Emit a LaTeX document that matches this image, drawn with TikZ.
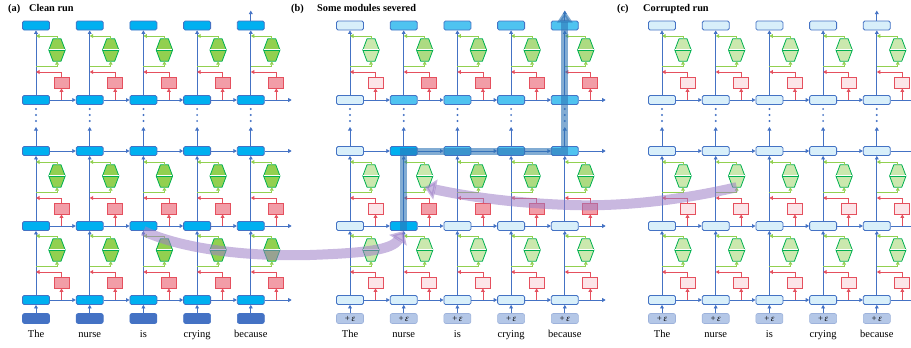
\documentclass[tikz,border=0pt]{standalone}
\usepackage{fontspec}
\setmainfont{Liberation Serif}
\usetikzlibrary{arrows.meta,calc}
\definecolor{bl}{HTML}{4472C4}
\definecolor{hid0}{HTML}{D8EFFA}
\definecolor{hid1}{HTML}{4FC3F0}
\definecolor{hid2}{HTML}{00B0F0}
\definecolor{red0}{HTML}{FCE5E8}
\definecolor{red1}{HTML}{F29DA7}
\definecolor{grn0}{HTML}{CBE8AE}
\definecolor{grn1}{HTML}{ADDB82}
\definecolor{grn2}{HTML}{92D050}
\definecolor{gdk}{HTML}{00B050}
\definecolor{glt}{HTML}{92D050}
\definecolor{rdk}{HTML}{E5505E}
\definecolor{inpA}{HTML}{4472C4}
\definecolor{inpB}{HTML}{B4C7E7}
\definecolor{inpBd}{HTML}{9DB2DB}
\definecolor{purp}{HTML}{9D7EC7}
\definecolor{hlb}{HTML}{2E75B6}
\tikzset{
  atip/.style={-{Triangle[length=3.5pt,width=3.8pt]}},
  hbox/.style={draw=bl, line width=0.8pt, rounded corners=1.5pt, minimum width=27pt, minimum height=9pt, inner sep=0pt},
  rbox/.style={draw=rdk, line width=0.8pt, minimum width=15pt, minimum height=11pt, inner sep=0pt},
  hexn/.style={minimum width=16pt, minimum height=22pt, inner sep=0pt},
  ibox/.style={rounded corners=2pt, line width=0.6pt, minimum width=27pt, minimum height=10pt, inner sep=0pt, font=\fontsize{9}{10}\selectfont},
  bline/.style={draw=bl, line width=0.8pt, atip},
  rline/.style={draw=rdk, line width=0.8pt, atip},
  gline/.style={draw=glt, line width=0.8pt, atip},
  word/.style={font=\fontsize{10.5}{12}\selectfont, inner sep=0pt},
  ptitle/.style={font=\bfseries\fontsize{10.3}{12}\selectfont, anchor=base west, inner sep=0pt},
  purparrow/.style={draw=purp, line width=10pt, opacity=0.55, -{Triangle[length=11pt,width=20pt]}},
  band/.style={draw=hlb, line width=7pt, opacity=0.6, line join=miter, -{Triangle[length=12pt,width=15pt]}},
}
\newcommand{\mkhex}[2]{%
  \filldraw[fill=#2, draw=gdk, line width=0.8pt, line join=round]
    ($(#1.north)+(-4,0)$) -- ($(#1.north)+(4,0)$) -- (#1.east) -- ($(#1.south)+(4,0)$) -- ($(#1.south)+(-4,0)$) -- (#1.west) -- cycle;
  \draw[white, line width=2.4pt] ($(#1.west)+(0.4,0)$) -- ($(#1.east)+(-0.4,0)$);
  \draw[gdk, line width=1pt] (#1.west) -- (#1.east);
}
% #1 prefix #2 col #3 layer #4 x #5 yL #6 red fill #7 green fill #8 lower node #9 upper node
\newcommand{\mklayer}[9]{%
  \node[rbox, fill=#6] (#1r#2-#3) at (#4+25.5,#5-17.5) {};
  \node[hexn] (#1g#2-#3) at (#4+21,#5-50) {};
  \mkhex{#1g#2-#3}{#7}
  \coordinate (#1ra#2-#3) at (#4,#5-28);
  \coordinate (#1gb#2-#3) at (#4,#5-34);
  \coordinate (#1gt#2-#3) at (#4,#5-64);
  \draw[bline] (#8) -- (#9);
  \draw[rline] (#1r#2-#3.south |- #8.center) -- (#1r#2-#3.south);
  \draw[rline] (#1r#2-#3) |- (#1ra#2-#3);
  \draw[gline] (#1gb#2-#3) -| (#1g#2-#3.south);
  \draw[gline] (#1g#2-#3) |- (#1gt#2-#3);
}
% #1 prefix, #2 x0, #3 input fill, #4 input draw, #5 input text, #6 list
\newcommand{\drawpanel}[6]{%
  \foreach \c/\hA/\hB/\hC/\hD/\hE/\rA/\rB/\rC/\gA/\gB/\gC in {#6} {
    \pgfmathsetmacro{\x}{#2+53.7*(\c-1)}
    \node[hbox, fill=hid\hA] (#1h\c-1) at (\x,300) {};
    \node[hbox, fill=hid\hB] (#1h\c-2) at (\x,226) {};
    \node[hbox, fill=hid\hC] (#1h\c-3) at (\x,151) {};
    \node[hbox, fill=hid\hD] (#1h\c-4) at (\x,100) {};
    \node[hbox, fill=hid\hE] (#1h\c-5) at (\x,25.5) {};
    \node[ibox, fill=#3, draw=#4] (#1i\c) at (\x,318.5) {#5};
    \draw[bline] (#1i\c) -- (#1h\c-1);
    \mklayer{#1}{\c}{1}{\x}{300}{red\rA}{grn\gA}{#1h\c-1}{#1h\c-2}
    \mklayer{#1}{\c}{2}{\x}{226}{red\rB}{grn\gB}{#1h\c-2}{#1h\c-3}
    \mklayer{#1}{\c}{3}{\x}{100}{red\rC}{grn\gC}{#1h\c-4}{#1h\c-5}
    \coordinate (#1d\c) at (\x,127);
    \draw[bline] (#1h\c-3) -- (#1d\c);
    \foreach \yy in {109,115,121} {\fill[bl] (\x,\yy) circle (1.1);}
  }
  \foreach \c [evaluate=\c as \n using int(\c+1)] in {1,2,3,4} {
    \foreach \r in {1,2,3,4} {\draw[bline] (#1h\c-\r) -- (#1h\n-\r);}
  }
  \foreach \r in {1,2,3,4} {
    \coordinate (#1o\r) at ($(#1h5-\r.east)+(27,0)$);
    \draw[bline] (#1h5-\r) -- (#1o\r);
  }
  \coordinate (#1top) at ($(#1h5-5.north)+(0,-10)$);
  \draw[bline] (#1h5-5) -- (#1top);
  \foreach \c/\w in {1/The,2/nurse,3/is,4/crying,5/because} {
    \pgfmathsetmacro{\x}{#2+53.7*(\c-1)}
    \node[word, anchor=base] (#1w\c) at (\x,337) {\w};
  }
}
\begin{document}
\begin{tikzpicture}[x=1pt,y=-1pt]
\useasboundingbox (0,0) rectangle (911,348);
\drawpanel{a}{36}{inpA}{inpA}{}{1/2/2/2/2/2/1/1/1/2/2/2, 2/2/2/2/2/2/1/1/1/2/2/2, 3/2/2/2/2/2/1/1/1/2/2/2, 4/2/2/2/2/2/1/1/1/2/2/2, 5/2/2/2/2/2/1/1/1/2/2/2}
\drawpanel{b}{350}{inpB}{inpBd}{+\hspace{1.5pt}\textit{ε}}{1/0/0/0/0/0/0/0/0/0/0/0, 2/0/2/2/1/1/0/1/1/0/0/1, 3/0/0/1/1/1/0/1/1/0/1/1, 4/0/0/1/1/1/0/1/1/0/1/1, 5/0/0/1/1/1/0/1/1/0/1/1}
\drawpanel{c}{662}{inpB}{inpBd}{+\hspace{1.5pt}\textit{ε}}{1/0/0/0/0/0/0/0/0/0/0/0, 2/0/0/0/0/0/0/0/0/0/0/0, 3/0/0/0/0/0/0/0/0/0/0/0, 4/0/0/0/0/0/0/0/0/0/0/0, 5/0/0/0/0/0/0/0/0/0/0/0}
% titles
\node[ptitle] (ta) at (8,11) {(a)};
\node[ptitle] (tna) at (29,11) {Clean run};
\node[ptitle] (tb) at (291,11) {(b)};
\node[ptitle] (tnb) at (317,11) {Some modules severed};
\node[ptitle] (tc) at (617,11) {(c)};
\node[ptitle] (tnc) at (643,11) {Corrupted run};
% highlight band in (b)
\draw[band] (bh2-2.south) -- (bh2-3.center) -- (bh5-3.center) -- (btop);
% purple arrows
\draw[purparrow] (ah3-2.south) .. controls (175,246) and (235,257) .. (310,255) .. controls (365,253) and (392,250) .. (bh2-2.south);
\draw[purparrow] (cg2-2.south) .. controls (690,198) and (630,207) .. (570,205) .. controls (510,203) and (465,196) .. (bg2-2.south);
\end{tikzpicture}
\end{document}
